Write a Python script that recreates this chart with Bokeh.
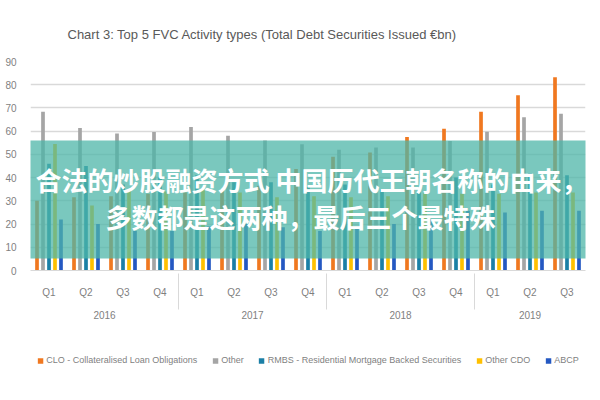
from bokeh.plotting import figure
from bokeh.layouts import column
from bokeh.models import (FactorRange, Legend, LegendItem, BoxAnnotation, Label,
                          ColumnDataSource, FixedTicker)
from bokeh.transform import dodge
from bokeh.embed import file_html
from bokeh.resources import INLINE

years = ["2016"] * 4 + ["2017"] * 4 + ["2018"] * 4 + ["2019"] * 3
quarters = ["Q1", "Q2", "Q3", "Q4"] * 3 + ["Q1", "Q2", "Q3"]

clo = [30, 31.5, 32, 33, 33.6, 35, 36.5, 43.7, 49, 50.8, 57.5, 61, 68.4, 75.5, 83.2]
other = [68.4, 61.4, 59, 59.6, 61.8, 58, 56, 54.4, 52, 53, 53, 55.8, 59.8, 66, 67.5]
rmbs = [46, 45, 37, 40, 41, 38, 38, 36, 37, 35, 34, 40, 37, 42, 41]
other_cdo = [54.5, 28, 35, 34, 35, 33.6, 31.5, 32, 31.5, 32, 33.6, 33, 33, 33.6, 33.6]
abcp = [22, 20, 17, 17, 19, 20, 18.6, 17, 18, 20, 22, 25.7, 25, 25.7, 25.7]

series_labels = ["CLO - Collateralised Loan Obligations", "Other",
                 "RMBS - Residential Mortgage Backed Securities", "Other CDO", "ABCP"]
series_keys = ["clo", "other", "rmbs", "other_cdo", "abcp"]
colors = ["#F07820", "#A5A5A5", "#1B7FA6", "#FFC000", "#2458C2"]

title_text = "Chart 3: Top 5 FVC Activity types (Total Debt Securities Issued €bn)"
overlay_line1 = "合法的炒股融资方式 中国历代王朝名称的由来，"
overlay_line2 = "多数都是这两种，最后三个最特殊"

factors = list(zip(years, quarters))
source = ColumnDataSource(data=dict(x=factors, clo=clo, other=other, rmbs=rmbs,
                                    other_cdo=other_cdo, abcp=abcp))

FONT = "Liberation Sans"
GREY = "#7F7F7F"

p = figure(x_range=FactorRange(*factors, range_padding=0, group_padding=0,
                               factor_padding=0),
           y_range=(0, 90), width=600, height=340,
           output_backend="svg", toolbar_location=None,
           min_border_left=30, min_border_right=15,
           min_border_top=61, min_border_bottom=70)

p.title.text = title_text
p.title.align = "left"
p.title.offset = 37
p.title.text_font = FONT
p.title.text_font_size = "13px"
p.title.text_font_style = "normal"
p.title.text_color = "#595959"
p.title.standoff = 40

p.outline_line_color = None
p.xgrid.grid_line_color = None
p.ygrid.grid_line_color = "#D9D9D9"
p.ygrid.grid_line_width = 1.3

p.yaxis.ticker = FixedTicker(ticks=list(range(0, 100, 10)))
p.yaxis.axis_line_color = None
p.yaxis.major_tick_line_color = None
p.yaxis.minor_tick_line_color = None
p.yaxis.major_label_text_font = FONT
p.yaxis.major_label_text_font_size = "10px"
p.yaxis.major_label_text_color = GREY
p.yaxis.major_label_standoff = 8

p.xaxis.axis_line_color = "#D9D9D9"
p.xaxis.major_tick_line_color = None
p.xaxis.minor_tick_line_color = None
p.xaxis.major_label_text_font = FONT
p.xaxis.major_label_text_font_size = "10px"
p.xaxis.major_label_text_color = GREY
p.xaxis.major_label_standoff = 10
p.xaxis.group_text_font = FONT
p.xaxis.group_text_font_size = "10px"
p.xaxis.group_text_font_style = "normal"
p.xaxis.group_text_color = GREY
p.xaxis.separator_line_color = "#D9D9D9"
p.xaxis.separator_line_width = 1

offsets = [-0.324, -0.162, 0.0, 0.162, 0.324]
for key, col, off in zip(series_keys, colors, offsets):
    p.vbar(x=dodge("x", off, range=p.x_range), top=key, width=0.1,
           source=source, fill_color=col, line_color=None)

band = BoxAnnotation(left=-0.82, right=15.42, top=55.98, bottom=5.17,
                     fill_color="#4DB6A8", fill_alpha=0.75, line_color=None)
p.add_layout(band)

for txt, xx, yy in [(overlay_line1, 7.595, 39.3), (overlay_line2, 7.30, 23.3)]:
    p.add_layout(Label(x=xx, y=yy, text=txt,
                       text_align="center", text_baseline="middle",
                       text_font="Noto Sans CJK SC", text_font_style="bold",
                       text_font_size="26px", text_color="white"))

lp = figure(width=600, height=60, x_range=(0, 1), y_range=(0, 1),
            output_backend="svg", toolbar_location=None, min_border=0)
lp.axis.visible = False
lp.grid.grid_line_color = None
lp.outline_line_color = None
items = []
for lab, col in zip(series_labels, colors):
    r = lp.vbar(x=[5], top=[0], width=0.1, fill_color=col, line_color=None)
    items.append(LegendItem(label=lab, renderers=[r]))
legend = Legend(items=items, orientation="horizontal", location="top_center",
                label_text_font=FONT, label_text_font_size="9px",
                label_text_color=GREY, glyph_width=7, glyph_height=7,
                label_standoff=3, spacing=14, border_line_color=None,
                background_fill_alpha=0, padding=0, margin=15)
lp.add_layout(legend)

open("out.html", "w").write(file_html(column(p, lp), INLINE))
